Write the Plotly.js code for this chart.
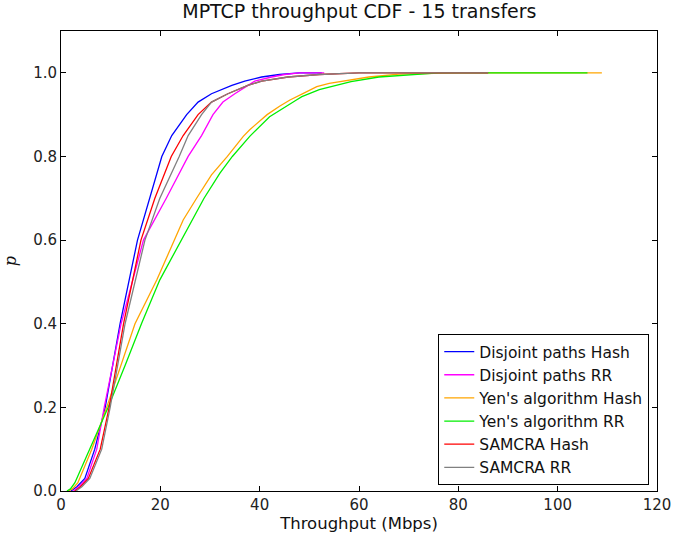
<!DOCTYPE html>
<html><head><meta charset="utf-8">
<script src="https://cdn.plot.ly/plotly-3.0.1.min.js"></script>
<style>body{margin:0;padding:0;background:#fff}#chart{width:673px;height:536px}</style>
</head><body><div id="chart"></div>
<script>
const seriesNames = ["Disjoint paths Hash","Disjoint paths RR","Yen's algorithm Hash","Yen's algorithm RR","SAMCRA Hash","SAMCRA RR"];
const seriesColors = ["#0000ff","#ff00ff","#ffa500","#00ee00","#ff0000","#808080"];

const djHashX = [2.0,3.2,4.8,6.8,8.9,11.9,15.4,17.9,20.3,22.3,25.3,27.6,30.3,34.4,37.0,40.4,44,48,52.5];
const djHashY = [0.0,0.01,0.03,0.10,0.20,0.40,0.60,0.70,0.80,0.85,0.90,0.93,0.95,0.97,0.98,0.99,0.996,1.0,1.0];

const djRRX = [2.5,3.6,5.2,7.2,8.7,12.1,16.6,21.2,25.6,28.3,30.6,32.6,35.0,37.6,39.0,42.4,45,48,53];
const djRRY = [0.0,0.01,0.03,0.10,0.20,0.40,0.60,0.70,0.80,0.85,0.90,0.93,0.95,0.97,0.98,0.99,0.996,1.0,1.0];

const yenHashX = [1.5,2.3,3.4,6.2,9.2,12.0,14.9,19.3,22.8,24.6,27.3,30.3,33.5,36.7,38.0,41.5,44.0,46.1,49.0,51.5,54.0,58.2,62.0,68.0,80,95,108.9];
const yenHashY = [0.0,0.005,0.02,0.10,0.20,0.30,0.40,0.505,0.60,0.648,0.70,0.756,0.80,0.848,0.864,0.90,0.92,0.935,0.952,0.967,0.975,0.983,0.99,0.997,1.0,1.0,1.0];

const yenRRX = [1.2,1.9,2.8,5.8,9.5,12.9,16.2,19.9,24.3,25.3,28.8,32.0,34.5,38.0,42.0,47.4,48.5,52.0,58.4,64.0,71.6,76,90,106];
const yenRRY = [0.0,0.005,0.02,0.10,0.20,0.30,0.40,0.505,0.60,0.624,0.70,0.76,0.80,0.848,0.895,0.935,0.943,0.96,0.979,0.99,0.997,1.0,1.0,1.0];

const samHashX = [2.8,3.9,5.5,7.9,9.7,12.6,16.1,18.9,22.2,24.6,27.6,30.3,33.6,37.6,40.4,45.7,52,60,86];
const samHashY = [0.0,0.01,0.03,0.10,0.20,0.40,0.60,0.70,0.80,0.85,0.90,0.93,0.95,0.97,0.98,0.99,0.996,1.0,1.0];

const samRRX = [3.0,4.2,5.8,8.2,9.9,12.9,16.9,19.9,23.8,25.6,28.3,30.3,33.6,37.6,40.4,45.7,52,60,86];
const samRRY = [0.0,0.01,0.03,0.10,0.20,0.40,0.60,0.70,0.80,0.85,0.90,0.93,0.95,0.97,0.98,0.99,0.996,1.0,1.0];

const xTickVals = [0,20,40,60,80,100,120];
const yTickVals = [0.0,0.2,0.4,0.6,0.8,1.0];
const yTickText = ["0.0","0.2","0.4","0.6","0.8","1.0"];

const xs = [djHashX,djRRX,yenHashX,yenRRX,samHashX,samRRX];
const ys = [djHashY,djRRY,yenHashY,yenRRY,samHashY,samRRY];

const traces = xs.map((x,i)=>({
  x:x, y:ys[i], type:'scatter', mode:'lines', name:seriesNames[i],
  line:{color:seriesColors[i], width:1.3}
}));

const axisCommon = {
  showgrid:false, zeroline:false, showline:true, linecolor:'#000', linewidth:1,
  mirror:'ticks', ticks:'inside', ticklen:5, tickcolor:'#000',
  tickfont:{family:'DejaVu Sans', size:15, color:'#222'}
};

const layout = {
  width:673, height:536,
  margin:{l:61, r:16, t:31, b:45},
  paper_bgcolor:'#fff', plot_bgcolor:'#fff',
  title:{text:'MPTCP throughput CDF - 15 transfers', font:{family:'DejaVu Sans', size:19, color:'#111'}, x:0.534, xanchor:'center', y:0.992, yanchor:'top'},
  xaxis:Object.assign({}, axisCommon, {range:[0,120], tickvals:xTickVals,
    title:{text:'Throughput (Mbps)', font:{family:'DejaVu Sans', size:16.5, color:'#111'}, standoff:2}}),
  yaxis:Object.assign({}, axisCommon, {range:[0,1.1], tickvals:yTickVals, ticktext:yTickText,
    title:{text:'<i>p</i>', font:{family:'DejaVu Serif', size:16, color:'#111'}, standoff:12}}),
  showlegend:true,
  legend:{x:0.987, xanchor:'right', y:0.013, yanchor:'bottom', bordercolor:'#000', borderwidth:1,
    bgcolor:'#fff', font:{family:'DejaVu Sans', size:15.5, color:'#111'}, tracegroupgap:0, itemwidth:30}
};

Plotly.newPlot('chart', traces, layout, {displayModeBar:false, staticPlot:true});
</script></body></html>
